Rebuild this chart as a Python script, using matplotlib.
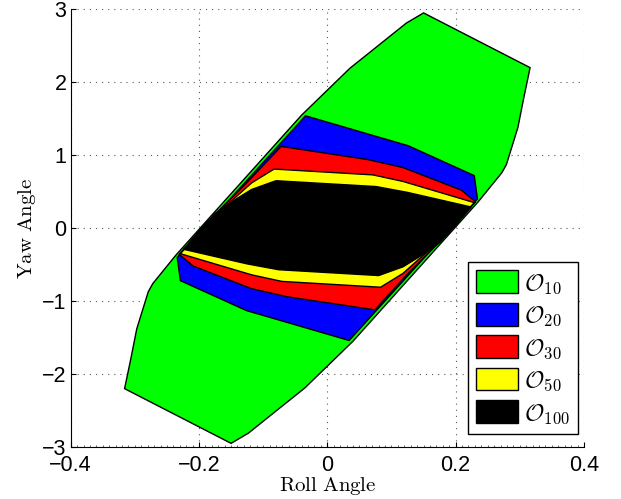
import matplotlib
matplotlib.use("Agg")
import matplotlib.pyplot as plt
from matplotlib.patches import Polygon, Patch
from matplotlib.ticker import MultipleLocator

plt.rcParams['font.family'] = ['Liberation Sans', 'DejaVu Sans']
plt.rcParams['mathtext.fontset'] = 'cm'

# region outlines (roll, yaw)
green_x = [0.150, 0.316, 0.306, 0.297, 0.279, 0.272, 0.236, 0.040, -0.035, -0.123,
           -0.150, -0.316, -0.306, -0.297, -0.279, -0.272, -0.236, -0.040, 0.035, 0.123]
green_y = [2.95, 2.20, 1.78, 1.38, 0.87, 0.76, 0.37, -1.55, -2.19, -2.81,
           -2.95, -2.20, -1.78, -1.38, -0.87, -0.76, -0.37, 1.55, 2.19, 2.81]

blue_x = [-0.034, 0.126, 0.229, 0.234, 0.034, -0.126, -0.229, -0.234]
blue_y = [1.54, 1.13, 0.72, 0.40, -1.54, -1.13, -0.72, -0.40]

red_x = [-0.072, 0.063, 0.118, 0.209, 0.231, 0.174, 0.128, 0.074,
         -0.063, -0.118, -0.209, -0.231, -0.174, -0.128]
red_y = [1.12, 0.94, 0.83, 0.52, 0.36, -0.20, -0.60, -1.12,
         -0.94, -0.83, -0.52, -0.36, 0.20, 0.60]

yellow_x = [-0.083, 0.071, 0.118, 0.229, 0.172, 0.146, 0.118, 0.083,
            -0.071, -0.118, -0.229, -0.172, -0.146, -0.118]
yellow_y = [0.81, 0.73, 0.64, 0.35, -0.20, -0.40, -0.62, -0.81,
            -0.73, -0.64, -0.35, 0.20, 0.40, 0.62]

black_x = [-0.080, 0.076, 0.125, 0.224, 0.201, 0.175, 0.142, 0.118, 0.080,
           -0.076, -0.125, -0.224, -0.201, -0.175, -0.142, -0.118]
black_y = [0.65, 0.57, 0.49, 0.29, 0.05, -0.20, -0.40, -0.53, -0.65,
           -0.57, -0.49, -0.29, -0.05, 0.20, 0.40, 0.53]

labels = [r'$\mathcal{O}_{10}$', r'$\mathcal{O}_{20}$', r'$\mathcal{O}_{30}$',
          r'$\mathcal{O}_{50}$', r'$\mathcal{O}_{100}$']
colors = ['#00ff00', '#0000ff', '#ff0000', '#ffff00', '#000000']
regions = [(green_x, green_y), (blue_x, blue_y), (red_x, red_y),
           (yellow_x, yellow_y), (black_x, black_y)]

fig = plt.figure(figsize=(6.21, 4.99), dpi=100)
ax = fig.add_axes([0.1138, 0.1042, 0.8266, 0.8772])

for (xs, ys), c in zip(regions, colors):
    ax.add_patch(Polygon(list(zip(xs, ys)), closed=True, facecolor=c,
                         edgecolor='black', linewidth=1.0, zorder=2))

ax.set_xlim(-0.4, 0.4)
ax.set_ylim(-3, 3)
ax.set_xticks([-0.4, -0.2, 0, 0.2, 0.4])
ax.set_xticklabels(['\u22120.4', '\u22120.2', '0', '0.2', '0.4'])
ax.set_yticks([-3, -2, -1, 0, 1, 2, 3])
ax.set_yticklabels(['\u22123', '\u22122', '\u22121', '0', '1', '2', '3'])
ax.xaxis.set_minor_locator(MultipleLocator(0.01))

ax.set_axisbelow(True)
ax.grid(True, color='0.35', linestyle=(0, (1, 4.5)), linewidth=0.8)
ax.spines['top'].set_visible(False)
ax.spines['right'].set_visible(False)
ax.tick_params(which='major', direction='in', length=3.5, width=0.8, labelsize=15.5)
ax.tick_params(axis='x', pad=6)
ax.tick_params(axis='y', pad=3)
ax.tick_params(which='minor', direction='in', length=1.5, width=0.6, color='0.3')

ax.set_xlabel(r'$\mathrm{Roll\ Angle}$', fontsize=15, labelpad=-1)
ax.set_ylabel(r'$\mathrm{Yaw\ Angle}$', fontsize=15, labelpad=3)

handles = [Patch(facecolor=c, edgecolor='black', linewidth=1.0) for c in colors]
leg = ax.legend(handles, labels, loc='lower right', bbox_to_anchor=(0.988, 0.03),
                borderaxespad=0, fontsize=17, handlelength=1.75, handleheight=1.1,
                handletextpad=0.25, labelspacing=0.3, borderpad=0.35,
                fancybox=False, framealpha=1, edgecolor='black')
leg.get_frame().set_linewidth(1.0)

fig.savefig('out.png', dpi=100)
